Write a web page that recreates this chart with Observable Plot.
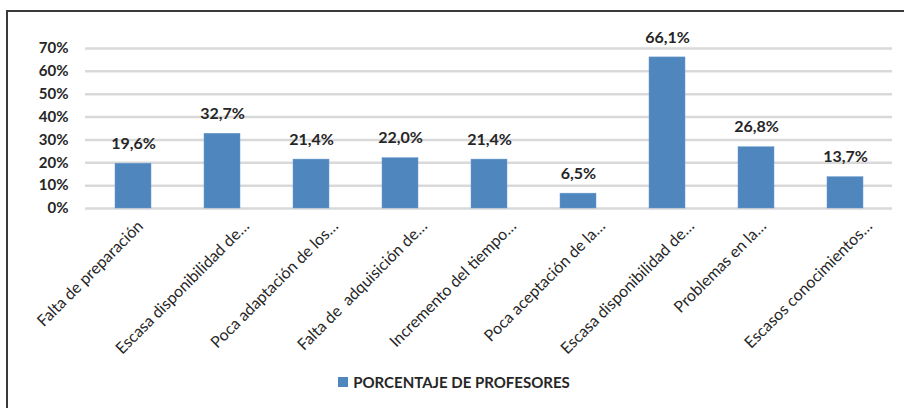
<!DOCTYPE html>
<html>
<head>
<meta charset="utf-8">
<script src="https://cdn.jsdelivr.net/npm/d3@7"></script>
<script src="https://cdn.jsdelivr.net/npm/@observablehq/plot@0.6"></script>
<style>
  html, body { margin: 0; padding: 0; background: #fff; }
  body { width: 904px; height: 408px; position: relative; overflow: hidden; font-family: Lato, "Open Sans", sans-serif; }
  #frame { position: absolute; left: 6px; top: 10px; width: 904px; height: 420px; border-left: 2px solid #3a3a3a; border-top: 2px solid #3a3a3a; box-sizing: border-box; }
  #chart { position: absolute; left: 0; top: 0; }
  #legend { position: absolute; left: 0; top: 364px; width: 904px; height: 36px; display: flex; justify-content: center; align-items: center; font-weight: bold; font-size: 15px; color: #262626; }
  #legend .sw { width: 10px; height: 10px; background: #4F86BE; margin-right: 5px; margin-left: 4px; }
</style>
</head>
<body>
<div id="frame"></div>
<div id="chart"></div>
<div id="legend"><span class="sw"></span><span id="legendText"></span></div>
<script>
const categories = [
  "Falta de preparación",
  "Escasa disponibilidad de…",
  "Poca adaptación de los…",
  "Falta de  adquisición de…",
  "Incremento del tiempo…",
  "Poca aceptación de la…",
  "Escasa disponibilidad de…",
  "Problemas en la…",
  "Escasos conocimientos…"
];
const values = [19.6, 32.7, 21.4, 22.0, 21.4, 6.5, 66.1, 26.8, 13.7];
const yTicks = [0, 10, 20, 30, 40, 50, 60, 70];
const seriesName = "PORCENTAJE DE PROFESORES";

const data = categories.map((c, i) => ({idx: i, label: c, value: values[i]}));
const fmt = v => v.toFixed(1).replace(".", ",") + "%";
const ink = "#262626";
const idx = d3.range(categories.length);
// Excel nudges the short labels less than the truncated long ones
const nearTicks = idx.filter(i => i === 0 || i === 7);
const farTicks = idx.filter(i => !nearTicks.includes(i));
const xAxisStyle = {tickSize: 0, tickPadding: 15, tickRotate: -45, tickFormat: i => categories[i], fontSize: 16, fill: ink};

const chart = Plot.plot({
  width: 904,
  height: 365,
  marginLeft: 85,
  marginRight: 12,
  marginTop: 48,
  marginBottom: 157,
  style: {fontFamily: "Lato, 'Open Sans', sans-serif", color: ink, background: "transparent"},
  x: {domain: idx, paddingInner: 0.6, paddingOuter: 0.3, label: null},
  y: {domain: [0, 70], label: null},
  marks: [
    Plot.ruleY(yTicks, {stroke: "#d9d9d9", strokeWidth: 2.5}),
    Plot.barY(data, {x: "idx", y: "value", fill: "#4F86BE", stroke: "#6b9bd0", strokeWidth: 0.5}),
    Plot.text(data, {x: "idx", y: "value", text: d => fmt(d.value), dy: -20, fontWeight: "bold", fontSize: 16, fill: ink}),
    Plot.axisY({ticks: yTicks, tickSize: 0, tickPadding: 17, tickFormat: d => d + "%", fontWeight: "bold", fontSize: 15, fill: ink}),
    Plot.axisX(nearTicks, {...xAxisStyle, dx: 7}),
    Plot.axisX(farTicks, {...xAxisStyle, dx: 24})
  ]
});
document.getElementById("chart").appendChild(chart);
document.getElementById("legendText").textContent = seriesName;
</script>
</body>
</html>
